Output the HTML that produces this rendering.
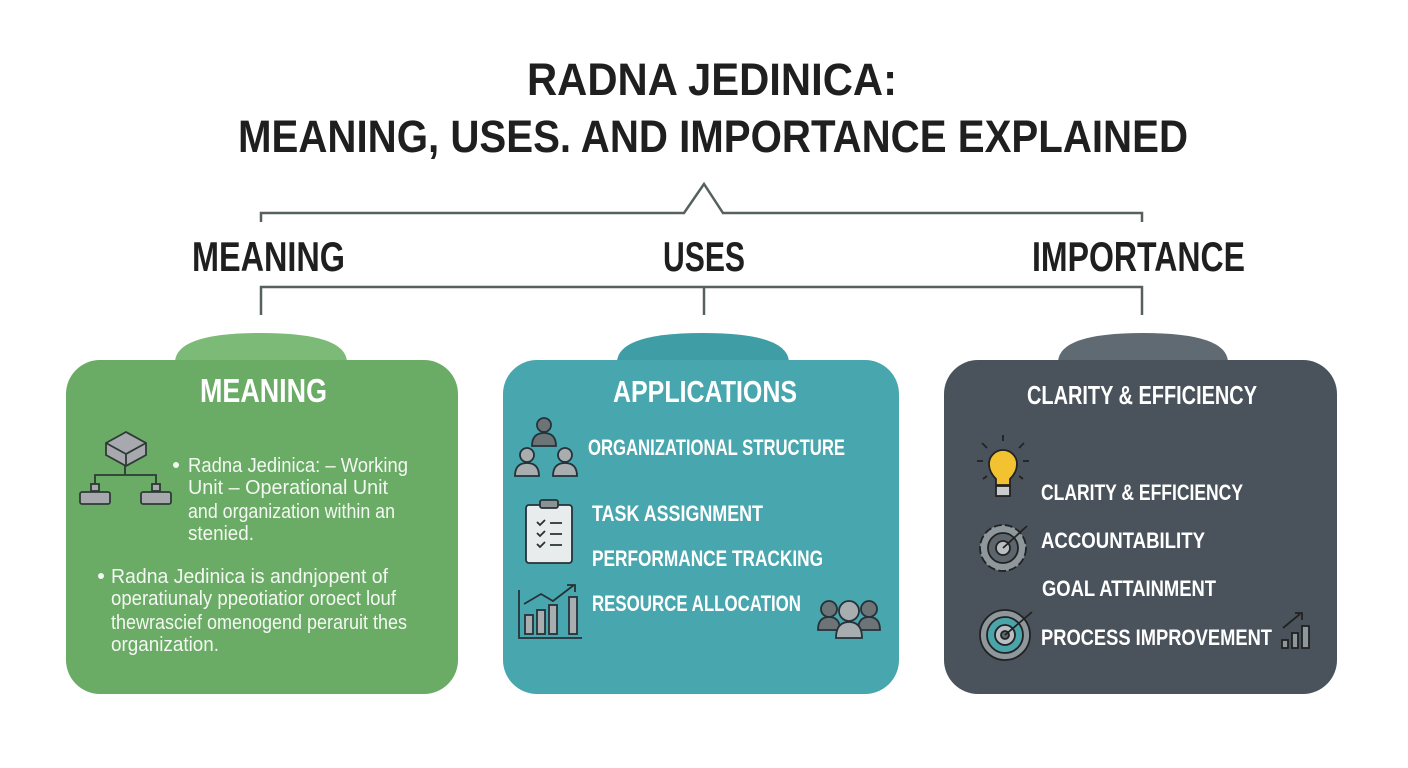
<!DOCTYPE html>
<html><head><meta charset="utf-8"><style>
html,body{margin:0;padding:0;background:#fff;width:1408px;height:768px;overflow:hidden}
svg{display:block}
text{font-family:"Liberation Sans",sans-serif}
.b{font-weight:bold}
</style></head><body>
<svg width="1408" height="768" viewBox="0 0 1408 768" xmlns="http://www.w3.org/2000/svg">
<rect width="1408" height="768" fill="#fff"/>
<g fill="#1f1f1f" class="b">
<text x="527" y="95" font-size="45" font-weight="bold" textLength="370" lengthAdjust="spacingAndGlyphs">RADNA JEDINICA:</text>
<text x="238" y="152" font-size="45" font-weight="bold" textLength="950" lengthAdjust="spacingAndGlyphs">MEANING, USES. AND IMPORTANCE EXPLAINED</text>
<text x="192" y="271" font-size="42" font-weight="bold" textLength="153" lengthAdjust="spacingAndGlyphs">MEANING</text>
<text x="663" y="271" font-size="42" font-weight="bold" textLength="82" lengthAdjust="spacingAndGlyphs">USES</text>
<text x="1032" y="271" font-size="42" font-weight="bold" textLength="213" lengthAdjust="spacingAndGlyphs">IMPORTANCE</text>
</g>
<g stroke="#56605f" stroke-width="2.5" fill="none">
<path d="M261 222 V213 H684 L704 184 L723 213 H1142 V222"/>
<path d="M261 315 V287 H1142 V315 M704 287 V315"/>
</g>
<!-- boxes -->
<path d="M175 362 Q176 333 261 333 Q346 333 347 362 Z" fill="#7cba77"/>
<rect x="66" y="360" width="392" height="334" rx="34" fill="#6aab66"/>
<path d="M617 362 Q618 333 703 333 Q788 333 789 362 Z" fill="#3f9ea5"/>
<rect x="503" y="360" width="396" height="334" rx="34" fill="#48a6ae"/>
<path d="M1058 362 Q1059 333 1143 333 Q1227 333 1228 362 Z" fill="#5f6a72"/>
<rect x="944" y="360" width="393" height="334" rx="34" fill="#4a535b"/>
<g fill="#fff">
<text x="200" y="402" font-size="33" font-weight="bold" textLength="127" lengthAdjust="spacingAndGlyphs">MEANING</text>
<text x="613" y="402" font-size="31" font-weight="bold" textLength="184" lengthAdjust="spacingAndGlyphs">APPLICATIONS</text>
<text x="1027" y="404" font-size="26" font-weight="bold" textLength="230" lengthAdjust="spacingAndGlyphs">CLARITY &amp; EFFICIENCY</text>
</g>
<g fill="#f4f8f2" font-size="20">
<circle cx="176" cy="465" r="3"/>
<text x="188" y="472" textLength="220" lengthAdjust="spacingAndGlyphs">Radna Jedinica: – Working</text>
<text x="188" y="494" textLength="200" lengthAdjust="spacingAndGlyphs">Unit – Operational Unit</text>
<text x="188" y="518" textLength="207" lengthAdjust="spacingAndGlyphs">and organization within an</text>
<text x="188" y="540" textLength="66" lengthAdjust="spacingAndGlyphs">stenied.</text>
<circle cx="101" cy="576" r="3"/>
<text x="111" y="583" textLength="277" lengthAdjust="spacingAndGlyphs">Radna Jedinica is andnjopent of</text>
<text x="111" y="605" textLength="285" lengthAdjust="spacingAndGlyphs">operatiunaly ppeotiatior oroect louf</text>
<text x="111" y="629" textLength="296" lengthAdjust="spacingAndGlyphs">thewrascief omenogend peraruit thes</text>
<text x="111" y="651" textLength="108" lengthAdjust="spacingAndGlyphs">organization.</text>
</g>
<g fill="#fff" font-weight="bold" font-size="22">
<text x="588" y="455" textLength="257" lengthAdjust="spacingAndGlyphs">ORGANIZATIONAL STRUCTURE</text>
<text x="592" y="521" textLength="171" lengthAdjust="spacingAndGlyphs">TASK ASSIGNMENT</text>
<text x="592" y="566" textLength="231" lengthAdjust="spacingAndGlyphs">PERFORMANCE TRACKING</text>
<text x="592" y="611" textLength="209" lengthAdjust="spacingAndGlyphs">RESOURCE ALLOCATION</text>
<text x="1041" y="500" textLength="202" lengthAdjust="spacingAndGlyphs">CLARITY &amp; EFFICIENCY</text>
<text x="1041" y="548" textLength="164" lengthAdjust="spacingAndGlyphs">ACCOUNTABILITY</text>
<text x="1042" y="596" textLength="174" lengthAdjust="spacingAndGlyphs">GOAL ATTAINMENT</text>
<text x="1041" y="645" textLength="231" lengthAdjust="spacingAndGlyphs">PROCESS IMPROVEMENT</text>
</g>
<!-- icons green -->
<g stroke="#2e3a36" stroke-width="1.8" fill="#a7a9ae">
<path d="M106 443 L126 432 L146 443 L146 455 L126 466 L106 455 Z"/>
<path d="M106 443 L126 454 L146 443 M126 454 V466" fill="none"/>
<path d="M125 466 V475 M95 488 V475 H156 V488" fill="none"/>
<rect x="91" y="484" width="8" height="7"/><rect x="152" y="484" width="8" height="7"/>
<rect x="80" y="492" width="30" height="12" rx="2"/><rect x="141" y="492" width="30" height="12" rx="2"/>
</g>
<!-- teal icons -->
<g stroke="#263238" stroke-width="1.8" fill="#6d7477">
<circle cx="544" cy="425" r="7"/><path d="M532 446 Q532 433 544 433 Q556 433 556 446 Z"/>
</g>
<g stroke="#263238" stroke-width="1.8" fill="#a8adb0">
<circle cx="527" cy="455" r="7"/><path d="M515 476 Q515 463 527 463 Q539 463 539 476 Z"/>
<circle cx="565" cy="455" r="7"/><path d="M553 476 Q553 463 565 463 Q577 463 577 476 Z"/>
<rect x="526" y="505" width="46" height="58" rx="3" fill="#e9ecec"/>
<rect x="540" y="500" width="18" height="8" rx="2" fill="#8a9294"/>
<path d="M537 522 l3 3 l5 -5 M550 523 H562 M537 533 l3 3 l5 -5 M550 534 H562 M537 544 l3 3 l5 -5 M550 545 H562" fill="none"/>
<path d="M519 590 V638 H582" fill="none"/>
<rect x="525" y="615" width="8" height="19"/><rect x="537" y="610" width="8" height="24"/><rect x="549" y="605" width="8" height="29"/><rect x="569" y="597" width="8" height="37"/>
<path d="M524 604 L541 594 L553 601 L574 585 M567 585 H575 V592" fill="none"/>
<circle cx="829" cy="609" r="8" fill="#6d7477"/><circle cx="869" cy="609" r="8" fill="#6d7477"/>
<path d="M818 630 Q818 617 829 617 Q840 617 840 630 Z M858 630 Q858 617 869 617 Q880 617 880 630 Z" fill="#6d7477"/>
<circle cx="849" cy="611" r="10"/><path d="M836 638 Q836 622 849 622 Q862 622 862 638 Z"/>
</g>
<!-- dark icons -->
<g stroke="#222" stroke-width="1.8">
<path d="M1003 464 m-14 0 a14 14 0 1 1 28 0 q0 8 -7 15 v6 h-14 v-6 q-7 -7 -7 -15 Z" fill="#f2c230"/>
<rect x="996" y="486" width="14" height="10" fill="#c9cbcd"/>
<path d="M1003 441 v-6 M987 448 l-5 -5 M1019 448 l5 -5 M983 461 h-6 M1023 461 h6 M987 476 l-4 3 M1019 476 l4 3" fill="none"/>
<circle cx="1003" cy="548" r="23" fill="#8d979c" stroke-dasharray="8 3"/>
<circle cx="1003" cy="548" r="15" fill="#5c666c"/><circle cx="1003" cy="548" r="7" fill="#b8bec1"/>
<path d="M1003 548 L1027 526" fill="none"/>
<circle cx="1005" cy="635" r="25" fill="#8d979c"/><circle cx="1005" cy="635" r="18" fill="#4aa5ab"/>
<circle cx="1005" cy="635" r="10" fill="#b8bec1"/><circle cx="1005" cy="635" r="4" fill="#5c666c"/>
<path d="M1005 635 L1032 612" fill="none"/>
<rect x="1282" y="640" width="6" height="8" fill="#8d979c"/><rect x="1292" y="633" width="6" height="15" fill="#8d979c"/><rect x="1302" y="626" width="7" height="22" fill="#8d979c"/>
<path d="M1283 628 L1300 614 M1295 613 H1302 V620" fill="none"/>
</g>
</svg>
</body></html>
